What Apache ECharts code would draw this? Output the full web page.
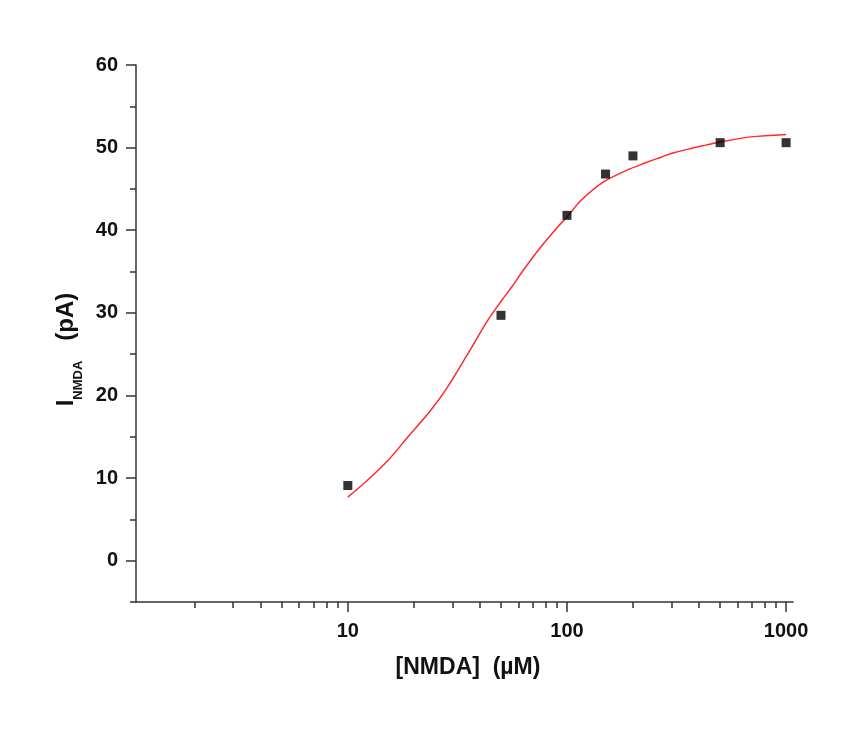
<!DOCTYPE html>
<html>
<head>
<meta charset="utf-8">
<script src="https://cdn.jsdelivr.net/npm/echarts@6/dist/echarts.min.js"></script>
<style>
  html, body { margin: 0; background: #fff; }
  #chart { width: 864px; height: 742px; }
</style>
</head>
<body>
<div id="chart"></div>
<script>
const concentrations = [10, 50, 100, 150, 200, 500, 1000];
const currents = [9.1, 29.7, 41.8, 46.8, 49.0, 50.6, 50.6];

// fitted curve
const fitX = [10, 11.9, 15.2, 18.7, 23.9, 28.5, 35.2, 43.5, 50, 55.5, 63.8, 76.1, 90.7, 100, 115.8, 148, 189, 225, 259, 310, 368, 430, 505, 692, 1000];
const fitY = [7.7, 9.4, 12.1, 14.9, 18.2, 21.0, 25.0, 29.1, 31.4, 33.0, 35.3, 38.0, 40.4, 41.6, 43.6, 45.9, 47.3, 48.1, 48.7, 49.4, 49.9, 50.3, 50.7, 51.3, 51.6];

const xMajorTicks = [10, 100, 1000];
const xMinorTicks = [2, 3, 4, 5, 6, 7, 8, 9, 20, 30, 40, 50, 60, 70, 80, 90, 200, 300, 400, 500, 600, 700, 800, 900];
const yMajorTicks = [0, 10, 20, 30, 40, 50, 60];
const yMinorTicks = [-5, 5, 15, 25, 35, 45, 55];

const axisColor = '#333';
const font = '"Liberation Sans", Arial, sans-serif';
const labelStyle = { color: '#111', fontFamily: font, fontWeight: 'bold', fontSize: 20 };

const chart = echarts.init(document.getElementById('chart'));
chart.setOption({
  backgroundColor: '#fff',
  animation: false,
  grid: { left: 136, right: 71, top: 65, bottom: 140 },
  xAxis: [
    {
      type: 'log',
      logBase: 10,
      min: 1.08,
      max: 1075,
      axisLine: { onZero: false, lineStyle: { color: axisColor, width: 1.5 } },
      axisTick: { length: 10, customValues: xMajorTicks, lineStyle: { color: axisColor, width: 1.5 } },
      axisLabel: { customValues: xMajorTicks, margin: 19, formatter: (v) => String(v), ...labelStyle },
      splitLine: { show: false },
      name: '[NMDA]  (µM)',
      nameLocation: 'middle',
      nameGap: 54,
      nameTextStyle: { color: '#111', fontFamily: font, fontWeight: 'bold', fontSize: 23, padding: [0, 0, 0, 7] },
    },
    {
      type: 'log',
      logBase: 10,
      min: 1.08,
      max: 1075,
      position: 'bottom',
      axisLine: { show: false, onZero: false },
      axisTick: { length: 6, customValues: xMinorTicks, lineStyle: { color: axisColor, width: 1.5 } },
      axisLabel: { show: false },
      splitLine: { show: false },
    },
  ],
  yAxis: [
    {
      type: 'value',
      min: -5,
      max: 60,
      axisLine: { show: true, onZero: false, lineStyle: { color: axisColor, width: 1.5 } },
      axisTick: { show: true, length: 10, customValues: yMajorTicks, lineStyle: { color: axisColor, width: 1.5 } },
      axisLabel: { customValues: yMajorTicks, margin: 18, ...labelStyle },
      splitLine: { show: false },
      name: '{i|I}{s|NMDA}{p|   (pA)}',
      nameLocation: 'middle',
      nameGap: 45,
      nameTextStyle: {
        padding: [0, 32, 0, 0],
        rich: {
          i: { fontFamily: font, fontWeight: 'bold', fontSize: 24, lineHeight: 26, color: '#111', verticalAlign: 'top' },
          s: { fontFamily: font, fontWeight: 'bold', fontSize: 13, lineHeight: 30, color: '#111', verticalAlign: 'bottom' },
          p: { fontFamily: font, fontWeight: 'bold', fontSize: 24, lineHeight: 26, color: '#111', verticalAlign: 'top' },
        },
      },
    },
    {
      type: 'value',
      min: -5,
      max: 60,
      position: 'left',
      axisLine: { show: false, onZero: false },
      axisTick: { show: true, length: 6, customValues: yMinorTicks, lineStyle: { color: axisColor, width: 1.5 } },
      axisLabel: { show: false },
      splitLine: { show: false },
    },
  ],
  series: [
    {
      name: 'Fit',
      type: 'line',
      data: fitX.map((x, i) => [x, fitY[i]]),
      showSymbol: false,
      smooth: 0.3,
      lineStyle: { color: '#ff2a2a', width: 1.5 },
      z: 2,
    },
    {
      name: 'INMDA',
      type: 'scatter',
      data: concentrations.map((x, i) => [x, currents[i]]),
      symbol: 'rect',
      symbolSize: 9,
      itemStyle: { color: '#000' },
      z: 3,
    },
  ],
});
</script>
</body>
</html>
